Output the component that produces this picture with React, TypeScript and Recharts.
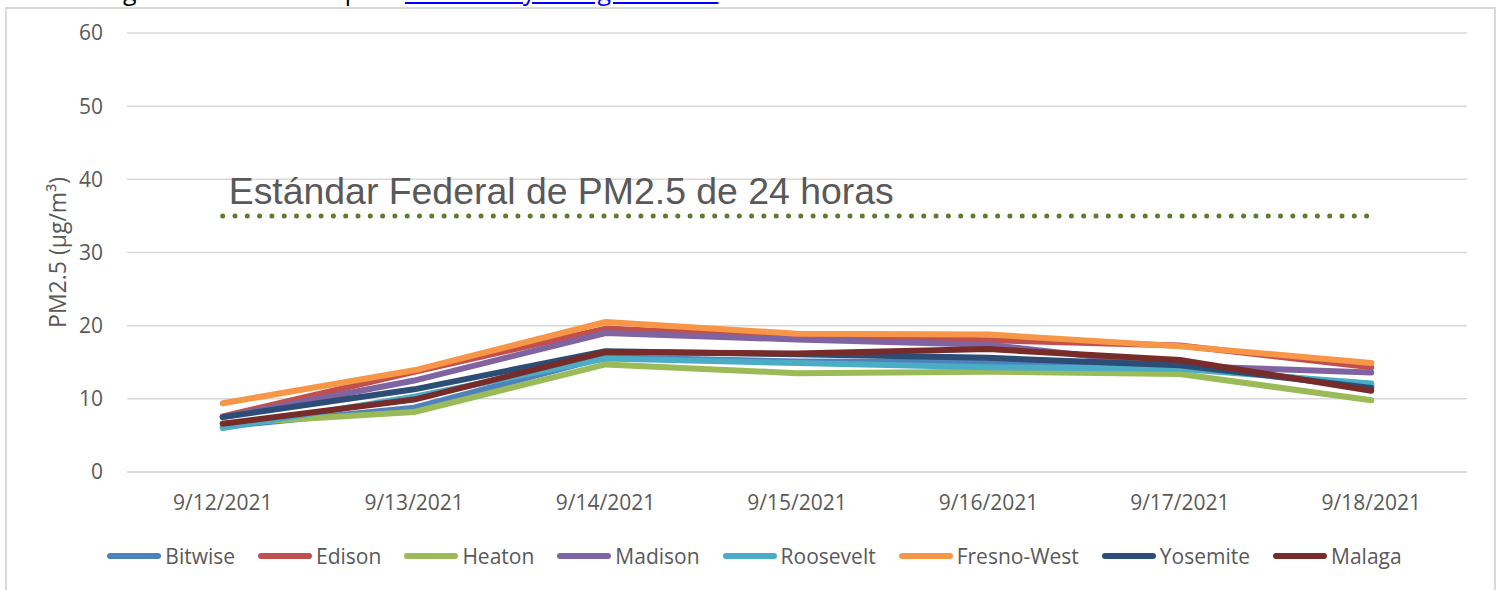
import React from "react";
import { LineChart, Line, XAxis, YAxis, CartesianGrid, Legend, ReferenceLine } from "recharts";

// fechas (eje X)
const dates = ["9/12/2021", "9/13/2021", "9/14/2021", "9/15/2021", "9/16/2021", "9/17/2021", "9/18/2021"];
const yTicks = [0, 10, 20, 30, 40, 50, 60];
const STANDARD = 35;

// PM2.5 promedio 24 h por estacion
const bitwise = [6.2, 8.8, 15.7, 15.1, 15.0, 14.5, 11.8];
const edison = [7.6, 13.7, 19.6, 18.4, 18.0, 17.3, 14.3];
const heaton = [6.6, 8.2, 14.7, 13.5, 13.7, 13.4, 9.8];
const madison = [7.5, 12.5, 19.0, 18.1, 17.4, 14.5, 13.6];
const roosevelt = [6.0, 10.3, 15.5, 14.9, 14.3, 14.1, 12.1];
const fresnoWest = [9.4, 13.9, 20.5, 18.9, 18.8, 17.2, 14.9];
const yosemite = [7.5, 11.3, 16.5, 16.1, 15.6, 14.6, 11.5];
const malaga = [6.6, 9.9, 16.4, 16.2, 16.8, 15.3, 11.1];

const series = [
  { key: "Bitwise", values: bitwise, color: "#4F81BD" },
  { key: "Edison", values: edison, color: "#C0504D" },
  { key: "Heaton", values: heaton, color: "#9BBB59" },
  { key: "Madison", values: madison, color: "#8064A2" },
  { key: "Roosevelt", values: roosevelt, color: "#4BACC6" },
  { key: "Fresno-West", values: fresnoWest, color: "#F79646" },
  { key: "Yosemite", values: yosemite, color: "#2C4D75" },
  { key: "Malaga", values: malaga, color: "#772C2A" },
];

const chartData = dates.map((date, i) => {
  const row: any = { date };
  series.forEach((s) => {
    row[s.key] = s.values[i];
  });
  return row;
});

const textGray = "#595959";
const font = '"Open Sans", sans-serif';
// media banda de categoria: (1467 - 127) / 7 / 2
const halfBand = 95.7;

const renderLegend = () => (
  <div
    style={{
      display: "flex",
      justifyContent: "center",
      alignItems: "center",
      height: 40,
      paddingLeft: 8,
      whiteSpace: "nowrap",
      fontFamily: font,
    }}
  >
    {series.map((s, i) => (
      <div key={s.key} style={{ display: "flex", alignItems: "center", marginLeft: i === 0 ? 0 : 23 }}>
        <span style={{ display: "inline-block", width: 54, height: 6, borderRadius: 3, background: s.color, marginRight: 4 }} />
        <span style={{ fontSize: 21, color: textGray }}>{s.key}</span>
      </div>
    ))}
  </div>
);

const App: React.FC = () => {
  return (
    <div
      style={{
        position: "absolute",
        left: 0,
        top: 0,
        width: 1501,
        height: 590,
        overflow: "hidden",
        background: "#fff",
        fontFamily: font,
      }}
    >
      {/* linea de texto cortada arriba */}
      <div
        style={{
          position: "absolute",
          left: 33,
          top: -24,
          fontSize: 25,
          lineHeight: "28px",
          whiteSpace: "nowrap",
          color: "#000",
        }}
      >
        Manténgase actualizado aquí:
        <span style={{ color: "#0000FF", textDecoration: "underline", position: "absolute", left: 372 }}>
          www.valleyair.org/wildfires
        </span>
      </div>
      <div
        style={{
          position: "absolute",
          left: 5,
          top: 7,
          width: 1491,
          height: 600,
          border: "2px solid #d9d9d9",
          boxSizing: "border-box",
        }}
      />
      <LineChart
        width={1501}
        height={590}
        data={chartData}
        margin={{ top: 33, right: 34, left: 0, bottom: 14 }}
        style={{ position: "absolute", left: 0, top: 0 }}
      >
        <CartesianGrid vertical={false} stroke="#d9d9d9" strokeWidth={1.5} />
        {/* marcas entre categorias */}
        <XAxis
          xAxisId={0}
          type="number"
          domain={[0, 7]}
          ticks={[0, 1, 2, 3, 4, 5, 6, 7]}
          allowDataOverflow
          tick={false}
          height={6}
          tickSize={6}
          stroke="#d9d9d9"
          strokeWidth={1.5}
        />
        <XAxis
          xAxisId={1}
          dataKey="date"
          axisLine={false}
          tickLine={false}
          tickSize={0}
          tickMargin={17}
          height={58}
          interval={0}
          padding={{ left: halfBand, right: halfBand }}
          tick={{ fill: textGray, fontSize: 21, fontFamily: font }}
        />
        <YAxis
          domain={[0, 60]}
          ticks={yTicks}
          width={127}
          axisLine={false}
          tickLine={false}
          tickSize={0}
          tickMargin={24}
          tick={{ fill: textGray, fontSize: 21, fontFamily: font }}
          label={{
            value: "PM2.5 (µg/m³)",
            angle: -90,
            position: "insideLeft",
            offset: 58,
            fill: textGray,
            fontSize: 23,
            fontFamily: font,
            style: { textAnchor: "middle" },
          }}
        />
        <Legend
          verticalAlign="bottom"
          height={40}
          content={renderLegend}
          wrapperStyle={{ left: 0, width: 1501 }}
        />
        <ReferenceLine
          xAxisId={1}
          segment={[
            { x: dates[0], y: STANDARD },
            { x: dates[dates.length - 1], y: STANDARD },
          ]}
          stroke="#5c7c2c"
          strokeWidth={5}
          strokeDasharray="0 12.3"
          strokeLinecap="round"
          label={{
            value: "Estándar Federal de PM2.5 de 24 horas",
            position: "insideBottomLeft",
            offset: 12,
            dx: -6,
            fill: textGray,
            fontSize: 37.4,
            fontFamily: '"Liberation Sans", Arial, sans-serif',
          }}
        />
        {series.map((s) => (
          <Line
            key={s.key}
            xAxisId={1}
            type="linear"
            dataKey={s.key}
            stroke={s.color}
            strokeWidth={6}
            strokeLinecap="round"
            strokeLinejoin="round"
            dot={false}
            activeDot={false}
            isAnimationActive={false}
          />
        ))}
      </LineChart>
    </div>
  );
};

export default App;
